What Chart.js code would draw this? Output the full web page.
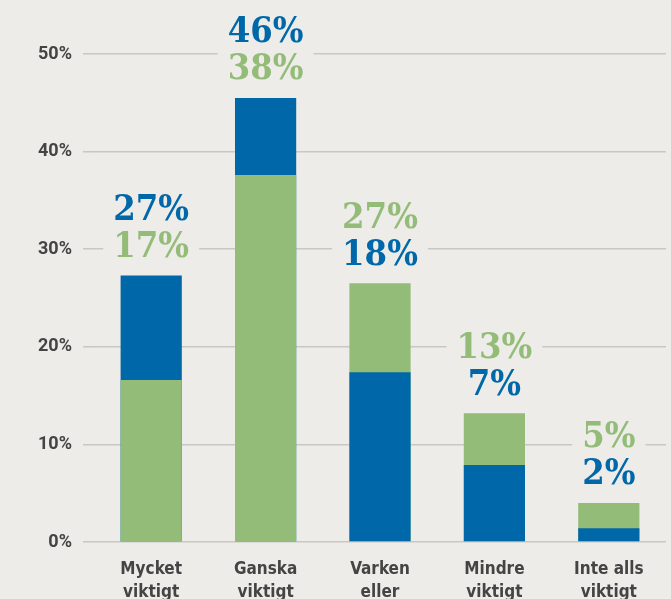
<!DOCTYPE html>
<html>
<head>
<meta charset="utf-8">
<script src="https://cdn.jsdelivr.net/npm/chart.js@4/dist/chart.umd.min.js"></script>
<style>
  html, body { margin: 0; padding: 0; background: #edece8; overflow: hidden; }
  #wrap { width: 671px; height: 599px; position: relative; }
</style>
</head>
<body>
<div id="wrap"><canvas id="chart" width="671" height="599"></canvas></div>
<script>
// Data
const categories = [
    ['Mycket', 'viktigt'],
    ['Ganska', 'viktigt'],
    ['Varken', 'eller', 'viktigt'],
    ['Mindre', 'viktigt'],
    ['Inte alls', 'viktigt']
];
const blueValues = [27.3, 45.5, 17.4, 7.9, 1.4];
const greenValues = [16.6, 37.6, 26.5, 13.2, 4.0];
const blueLabels = ['27%', '46%', '18%', '7%', '2%'];
const greenLabels = ['17%', '38%', '27%', '13%', '5%'];
const yTicks = [0, 10, 20, 30, 40, 50];

const BLUE = '#0068a9';
const GREEN = '#94bc79';
const BG = '#edece8';

// taller bar goes behind, shorter in front
const backValues = blueValues.map((v, i) => Math.max(v, greenValues[i]));
const frontValues = blueValues.map((v, i) => Math.min(v, greenValues[i]));
const backColors = blueValues.map((v, i) => v >= greenValues[i] ? BLUE : GREEN);
const frontColors = blueValues.map((v, i) => v >= greenValues[i] ? GREEN : BLUE);

// Draw the two percentage labels above each pair of bars
const valueLabels = {
    id: 'valueLabels',
    afterDatasetsDraw(chart) {
        const ctx = chart.ctx;
        const x = chart.scales.x;
        const y = chart.scales.y;
        ctx.save();
        ctx.font = 'bold 36px "DejaVu Serif Condensed", "DejaVu Serif", serif';
        ctx.textAlign = 'center';
        ctx.textBaseline = 'middle';
        categories.forEach((c, i) => {
            const cx = x.getPixelForValue(i);
            const top = y.getPixelForValue(backValues[i]);
            const blueTop = blueValues[i] >= greenValues[i];
            const upper = blueTop ? { t: blueLabels[i], c: BLUE } : { t: greenLabels[i], c: GREEN };
            const lower = blueTop ? { t: greenLabels[i], c: GREEN } : { t: blueLabels[i], c: BLUE };
            [[lower, top - 30], [upper, top - 67]].forEach(([lab, ly]) => {
                const w = ctx.measureText(lab.t).width;
                ctx.fillStyle = BG;
                ctx.fillRect(cx - w / 2 - 10, ly - 15, w + 20, 30);
                ctx.fillStyle = lab.c;
                ctx.fillText(lab.t, cx, ly + 2);
            });
        });
        ctx.restore();
    }
};

function createChart() {
    const ctx = document.getElementById('chart').getContext('2d');
    new Chart(ctx, {
        type: 'bar',
        data: {
            labels: categories,
            datasets: [
                { data: frontValues, backgroundColor: frontColors, order: 1 },
                { data: backValues, backgroundColor: backColors, order: 2 }
            ]
        },
        options: {
            responsive: false,
            animation: false,
            layout: { padding: { top: 54, left: 0, right: 5, bottom: 0 } },
            datasets: {
                bar: { grouped: false, categoryPercentage: 1, barPercentage: 0.535 }
            },
            plugins: { legend: { display: false }, tooltip: { enabled: false } },
            scales: {
                x: {
                    afterFit(scale) { scale.height = 57; },
                    grid: { display: false },
                    border: { display: false },
                    ticks: {
                        color: '#444444',
                        padding: 9,
                        maxRotation: 0,
                        autoSkip: false,
                        font: { family: '"Liberation Sans Narrow", "DejaVu Sans Condensed", sans-serif', size: 17, weight: 'bold', lineHeight: 1.3 }
                    }
                },
                y: {
                    min: 0,
                    max: 50,
                    afterFit(scale) { scale.width = 94; },
                    afterBuildTicks(scale) { scale.ticks = yTicks.map(v => ({ value: v })); },
                    border: { display: false },
                    grid: { color: '#c9c7c3', lineWidth: 1.5, drawTicks: true, tickLength: 11 },
                    ticks: {
                        color: '#444444',
                        padding: 11,
                        callback: v => v + '%',
                        font: { family: 'Roboto, sans-serif', size: 18, weight: 'bold' }
                    }
                }
            }
        },
        plugins: [valueLabels]
    });
}

createChart();
</script>
</body>
</html>
